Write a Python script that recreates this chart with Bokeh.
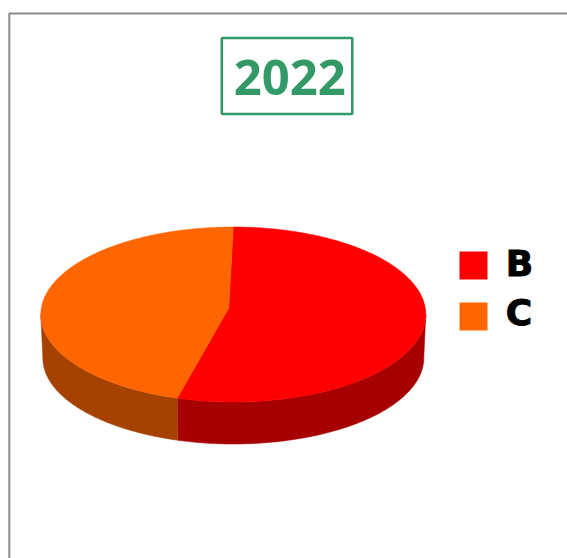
import numpy as np
from bokeh.plotting import figure
from bokeh.models import Range1d
from bokeh.core.properties import value
from bokeh.embed import file_html
from bokeh.resources import INLINE

title_label = "2022"
categories = ["B", "C"]
shares = [54.7, 45.3]

TOP_COLORS = ["#FF0000", "#FF6600"]
SIDE_COLORS = ["#A60000", "#A64200"]
GREEN = "#339966"

CX, CY, RX, RY = 233.5, 314.5, 192.5, 87.5       # upper face
BCX, BCY, BRX, BRY = 233.5, 358.0, 190.5, 86.0   # lower rim
APEX = (229.0, 308.0)
LEGEND_TEXT_Y = [263.5, 312.5]


def rim(theta, cx, cy, rx, ry):
    return cx + rx * np.sin(theta), cy - ry * np.cos(theta)


p = figure(width=567, height=558, output_backend="svg", toolbar_location=None,
           x_range=Range1d(0.7, 567.7), y_range=Range1d(558.5, 0.5),
           x_axis_type=None, y_axis_type=None, min_border=0,
           outline_line_color=None, background_fill_color="white",
           border_fill_color="white")
p.grid.visible = False

# chart frame (runs off the right and bottom of the page)
p.line([9.5, 9.5, 620], [620, 13.5, 13.5], line_color="#8C8C8C", line_width=2)

# slices
edges = np.cumsum([0.0] + list(shares)) / sum(shares) * 2 * np.pi
front_lo, front_hi = np.pi / 2, 3 * np.pi / 2
for i in range(len(categories)):
    lo, hi = edges[i], edges[i + 1]
    a, b = max(lo, front_lo), min(hi, front_hi)
    if b > a:
        th = np.linspace(a, b, 160)
        x1, y1 = rim(th, CX, CY, RX, RY)
        x2, y2 = rim(th[::-1], BCX, BCY, BRX, BRY)
        p.patch(np.r_[x1, x2], np.r_[y1, y2], fill_color=SIDE_COLORS[i],
                line_color=SIDE_COLORS[i], line_width=0.5)
for i in range(len(categories)):
    th = np.linspace(edges[i], edges[i + 1], 300)
    x1, y1 = rim(th, CX, CY, RX, RY)
    p.patch(np.r_[APEX[0], x1], np.r_[APEX[1], y1], fill_color=TOP_COLORS[i],
            line_color=TOP_COLORS[i], line_width=0.5)

# title box
p.quad(left=[222], right=[352.5], top=[38], bottom=[114], fill_color=None,
       line_color=GREEN, line_width=2.6)
p.text(x=[290], y=[77], text=[title_label], text_font=value("Open Sans"),
       text_font_style="bold", text_font_size="49px", text_color=GREEN,
       text_align="center", text_baseline="middle")

# legend
for i, name in enumerate(categories):
    y0 = 251.5 + 51 * i
    p.quad(left=[459.7], right=[487.7], top=[y0], bottom=[y0 + 28],
           fill_color=TOP_COLORS[i], line_color=None)
    p.text(x=[506], y=[LEGEND_TEXT_Y[i]], text=[name], text_font=value("DejaVu Sans"),
           text_font_style="bold", text_font_size="36px", text_color="black",
           text_outline_color="black",
           text_align="left", text_baseline="middle")

open("out.html", "w").write(file_html(p, INLINE))
